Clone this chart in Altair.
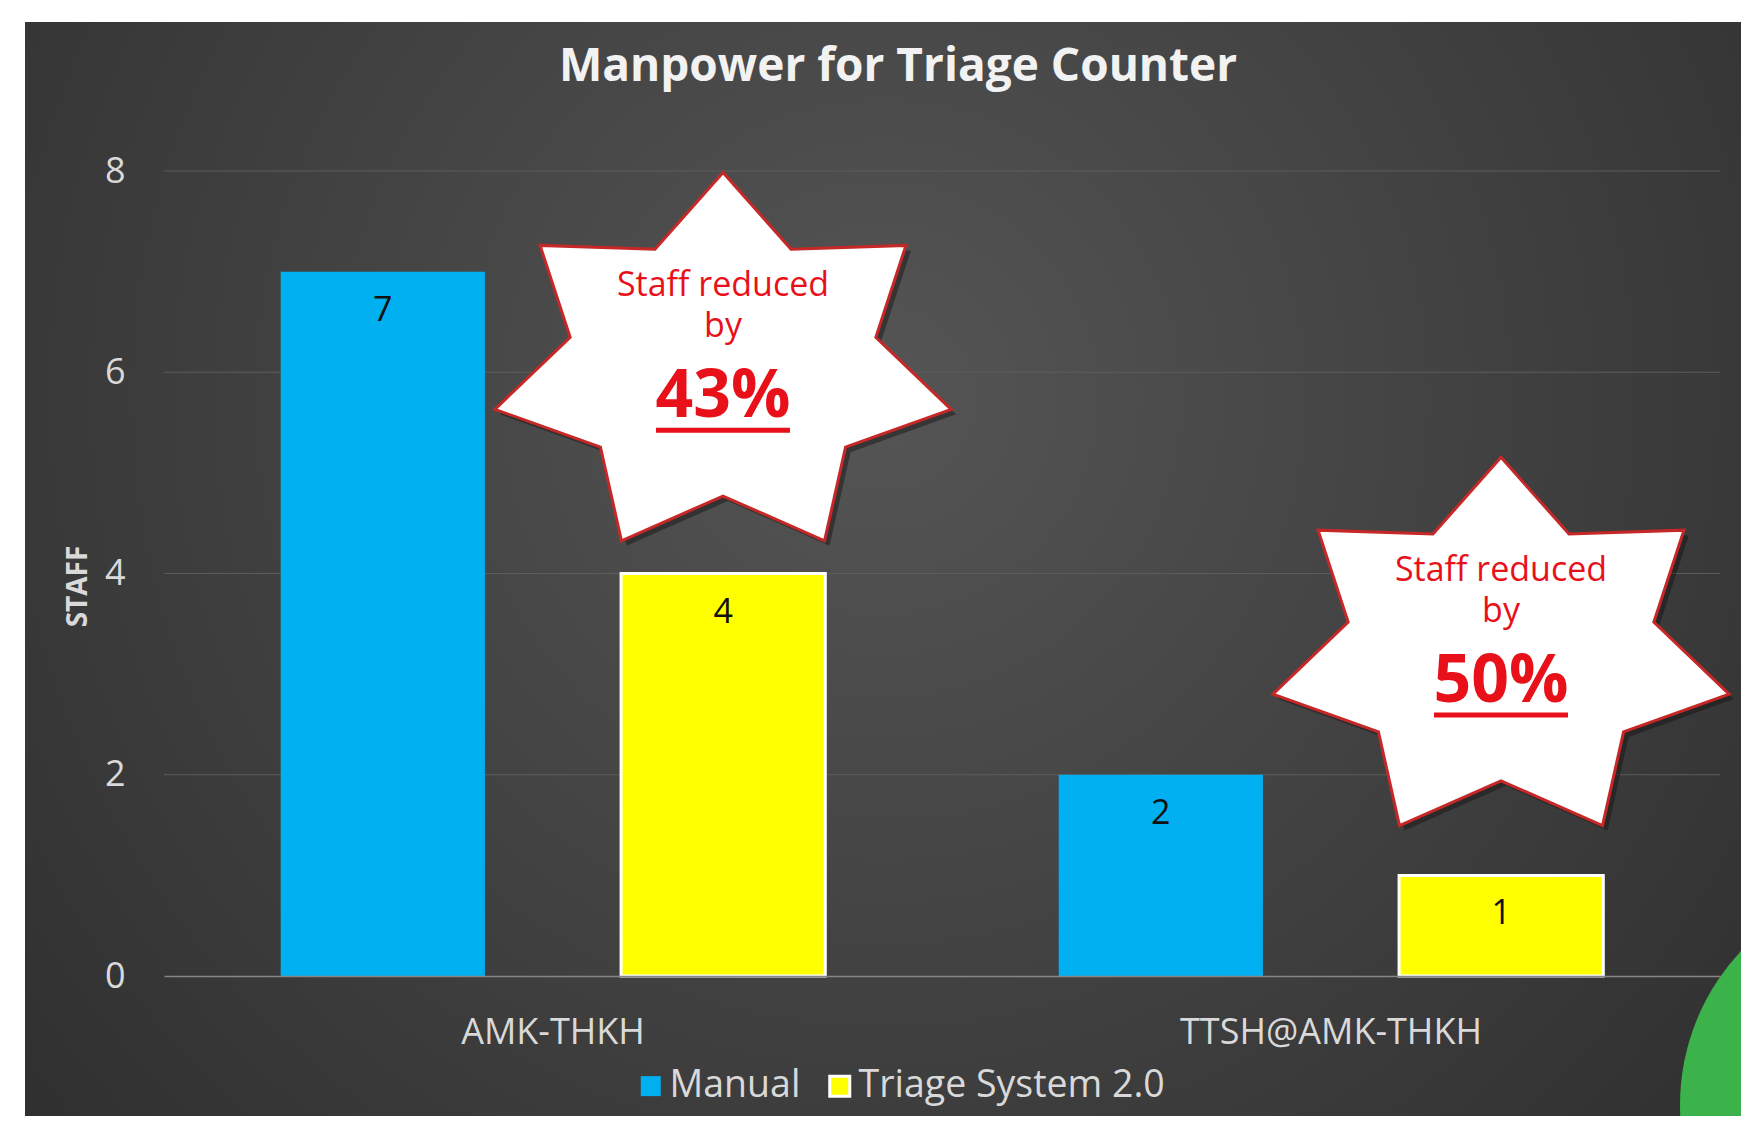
import math
import altair as alt
import pandas as pd

# ---------------- data ----------------
categories = ["AMK-THKH", "TTSH@AMK-THKH"]
series = ["Manual", "Triage System 2.0"]
manual_staff = [7, 2]
triage_staff = [4, 1]
series_colors = ["#00B0F0", "#FFFF00"]
y_ticks = [0, 2, 4, 6, 8]

ann_category = ["AMK-THKH", "TTSH@AMK-THKH"]
ann_pos = [6.06, 3.23]
ann_line1 = ["Staff reduced", "Staff reduced"]
ann_line2 = ["by", "by"]
ann_pct = ["43%", "50%"]

rows = []
for i, c in enumerate(categories):
    rows.append({"category": c, "series": series[0], "staff": manual_staff[i]})
    rows.append({"category": c, "series": series[1], "staff": triage_staff[i]})
df = pd.DataFrame(rows)
ann = pd.DataFrame({"category": ann_category, "staff": ann_pos, "l1": ann_line1,
                    "l2": ann_line2, "pct": ann_pct})
grid_df = pd.DataFrame({"staff": y_ticks[1:]})

# ---------------- styling ----------------
FONT = "Open Sans"
LABEL = "#d9d9d9"
RED = "#e8111a"
PW, PH = 1556, 805
STAR_DX = 170

# 7-pointed star shape (unit path, slightly squashed vertically)
pts = []
for k in range(14):
    a = k * math.pi / 7
    r = 1.0 if k % 2 == 0 else 0.67
    pts.append((r * math.sin(a), -r * math.cos(a) * 0.828))
star_path = "M" + " L".join(f"{x:.4f},{y:.4f}" for x, y in pts) + " Z"
STAR_SIZE = 468 ** 2

x_scale = alt.Scale(domain=categories, paddingInner=0.3, paddingOuter=0.15)
y_scale = alt.Scale(domain=[0, 8], nice=False)
off_scale = alt.Scale(domain=series, paddingInner=0.4, paddingOuter=0)

x_axis = alt.Axis(title=None, labelAngle=0, labelFontSize=36, labelColor=LABEL,
                  labelFont=FONT, labelPadding=39, labelLimit=600, ticks=False,
                  domain=True, domainColor="#868686", domainWidth=1.5, grid=False,
                  zindex=1)
y_axis = alt.Axis(title="STAFF", values=y_ticks, labelFontSize=36,
                  labelColor=LABEL, labelFont=FONT, labelPadding=39,
                  ticks=False, domain=False, grid=False, zindex=1,
                  titleFontSize=28, titleFontWeight="bold",
                  titleColor=LABEL, titleFont=FONT, titleX=-86, titleY=415,
                  titleAngle=270, titleAlign="center", titleBaseline="middle")

X = alt.X("category:N", sort=categories, scale=x_scale, axis=x_axis)
Y = alt.Y("staff:Q", scale=y_scale, axis=y_axis)
XO = alt.XOffset("series:N", sort=series, scale=off_scale)

legend = alt.Legend(title=None, orient="none", legendX=468, legendY=896,
                    direction="horizontal", labelFontSize=37.5, labelColor=LABEL,
                    labelFont=FONT, labelLimit=500, symbolType="square",
                    symbolSize=400, labelOffset=0, columnPadding=20)

one = alt.Data(values=[{"k": 1}])

background = alt.Chart(one).mark_rect(
    color=alt.RadialGradient(
        gradient="radial",
        stops=[alt.GradientStop(offset=0, color="#555555"),
               alt.GradientStop(offset=1, color="#2a2a2a")],
        x1=0.5, y1=0.4, r1=0, x2=0.5, y2=0.4, r2=0.75)
).encode(x=alt.value(-139), x2=alt.value(1577), y=alt.value(-149), y2=alt.value(945))

gridlines = alt.Chart(grid_df).mark_rule(color="#5c5c5c", strokeWidth=1).encode(
    y=Y, x=alt.value(0), x2=alt.value(PW))

bars = alt.Chart(df).mark_bar(stroke="white").encode(
    x=X, xOffset=XO, y=Y,
    color=alt.Color("series:N", sort=series,
                    scale=alt.Scale(domain=series, range=series_colors), legend=legend),
    strokeWidth=alt.StrokeWidth("series:N", sort=series,
                                scale=alt.Scale(domain=series, range=[0, 3]),
                                legend=legend),
)

bar_labels = alt.Chart(df).mark_text(dy=39, baseline="middle", fontSize=34, font=FONT,
                                     color="#111111").encode(
    x=X, xOffset=XO, y=Y, text="staff:Q")

star_shadow = alt.Chart(ann).mark_point(
    shape=star_path, size=STAR_SIZE, filled=True, fill="#111111", opacity=0.45,
    strokeWidth=0, xOffset=STAR_DX + 5, yOffset=5
).encode(x=X, y=Y)

stars = alt.Chart(ann).mark_point(
    shape=star_path, size=STAR_SIZE, filled=True, fill="white", fillOpacity=1,
    stroke="#c62828", strokeWidth=3, opacity=1, xOffset=STAR_DX
).encode(x=X, y=Y)

txt1 = alt.Chart(ann).mark_text(fontSize=34, font=FONT, color=RED, baseline="alphabetic",
                                xOffset=STAR_DX, dy=-70).encode(x=X, y=Y, text="l1:N")
txt2 = alt.Chart(ann).mark_text(fontSize=34, font=FONT, color=RED, baseline="alphabetic",
                                xOffset=STAR_DX, dy=-29).encode(x=X, y=Y, text="l2:N")
txt3 = alt.Chart(ann).mark_text(fontSize=66, font=FONT, fontWeight="bold", color=RED,
                                baseline="alphabetic", xOffset=STAR_DX,
                                dy=51).encode(x=X, y=Y, text="pct:N")
underline = alt.Chart(ann).mark_tick(orient="horizontal", size=134, thickness=5, color=RED,
                                     opacity=1, xOffset=STAR_DX, yOffset=64).encode(
    x=X, y=Y)

green = alt.Chart(one).mark_point(shape="circle", filled=True, size=450 ** 2,
                                  color="#3cb34a", opacity=1).encode(
    x=alt.value(1741), y=alt.value(934))

chart = alt.layer(
    background, gridlines, bars, bar_labels, star_shadow, stars, txt1, txt2, txt3,
    underline, green
).properties(
    width=PW, height=PH,
    autosize=alt.AutoSizeParams(type="none"),
    padding={"left": 156, "top": 163, "right": 21, "bottom": 140},
    background="white",
    title=alt.TitleParams("Manpower for Triage Counter", fontSize=46, fontWeight="bold",
                          color="#f2f2f2", font=FONT, anchor="middle", frame="group",
                          baseline="alphabetic", offset=-47, dy=58, dx=-44),
).configure_view(strokeWidth=0).configure(font=FONT)

chart.save("out.html", embed_options={"renderer": "svg", "actions": False})
